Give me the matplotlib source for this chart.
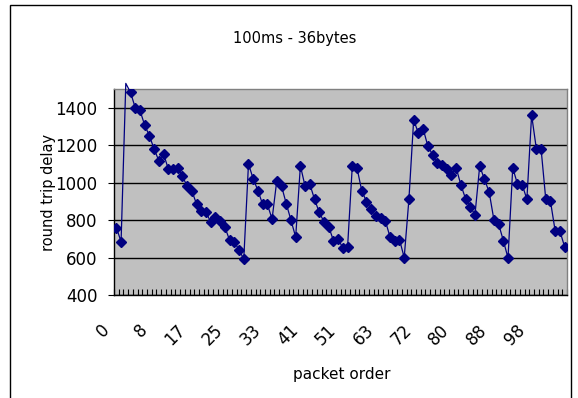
import matplotlib
matplotlib.use("Agg")
import matplotlib.pyplot as plt
from matplotlib.patches import Rectangle
import numpy as np

plt.rcParams['font.family'] = ['DejaVu Sans']

# ---- data ----
title = "100ms - 36bytes"
x_label = "packet order"
y_label = "round trip delay"
delay = [760, 685, 1530, 1482, 1400, 1386, 1307, 1250, 1180, 1117,
         1153, 1074, 1072, 1080, 1033, 982, 956, 885, 846, 842,
         790, 814, 795, 762, 693, 683, 641, 592, 1100, 1020,
         958, 884, 884, 806, 1011, 982, 888, 800, 709, 1090,
         980, 992, 911, 841, 791, 765, 691, 697, 652, 656,
         1089, 1078, 957, 899, 859, 822, 810, 796, 710, 686,
         696, 600, 911, 1334, 1266, 1289, 1196, 1150, 1107, 1093,
         1075, 1039, 1080, 989, 914, 870, 829, 1089, 1018, 950,
         803, 780, 691, 598, 1079, 993, 989, 911, 1361, 1182,
         1182, 911, 900, 741, 741, 657]
tick_labels = ["0", "8", "17", "25", "33", "41", "51", "63", "72", "80", "88", "98"]
label_step = 8
y_ticks = [400, 600, 800, 1000, 1200, 1400]

W, H = 578, 398
fig = plt.figure(figsize=(W / 100, H / 100), dpi=100)

def px(x0, y0, x1, y1):
    return [x0 / W, 1 - y1 / H, (x1 - x0) / W, (y1 - y0) / H]

# outer chart border
fig.patches.append(Rectangle((10 / W, -0.05), (571 - 10) / W, 1.05 - 5 / H,
                             transform=fig.transFigure, fill=False,
                             edgecolor='black', linewidth=1.0))

ax = fig.add_axes(px(114, 89, 567, 295))
ax.set_facecolor('#C0C0C0')

n = len(delay)
xs = np.arange(n)
ax.plot(xs, delay, color='#000080', linewidth=0.9, clip_on=False, zorder=3)
ax.plot(xs, delay, linestyle='none', marker='D', markersize=5.5,
        color='#000080', clip_on=True, zorder=4)

ax.set_xlim(-0.5, n - 0.5)
ax.set_ylim(400, 1500)
ax.set_yticks(y_ticks)
ax.set_yticklabels([str(v) for v in y_ticks], fontsize=12)
ax.yaxis.grid(True, color='black', linewidth=1.0)
ax.set_axisbelow(True)

# category labels every `label_step` categories, rotated like Excel
label_pos = np.arange(0, len(tick_labels) * label_step, label_step)
ax.set_xticks(label_pos)
ax.set_xticklabels([])
xtrans = ax.get_xaxis_transform()
for pos, lab in zip(label_pos, tick_labels):
    ax.annotate(lab, xy=(pos, 0), xycoords=xtrans,
                xytext=(-16 * 0.72, -26 * 0.72), textcoords='offset points',
                rotation=45, ha='right', va='top', rotation_mode='anchor',
                fontsize=12, annotation_clip=False)
ax.set_xticks(np.arange(-0.5, n, 1.0), minor=True)
ax.tick_params(axis='x', which='major', length=0)
ax.tick_params(axis='x', which='minor', direction='in', length=4, width=0.8, color='black')
ax.tick_params(axis='y', which='major', direction='out', length=4, width=0.8, pad=8)

for s in ['top', 'right']:
    ax.spines[s].set_color('#808080')
    ax.spines[s].set_linewidth(1.0)
for s in ['left', 'bottom']:
    ax.spines[s].set_color('black')
    ax.spines[s].set_linewidth(1.0)

fig.text(295 / W, 1 - 38 / H, title, ha='center', va='center', fontsize=10.5)
fig.text(342 / W, 1 - 375 / H, x_label, ha='center', va='center', fontsize=11)
fig.text(48 / W, 1 - 192 / H, y_label, ha='center', va='center', rotation=90, fontsize=10.5)

fig.savefig("out.png", dpi=100)
